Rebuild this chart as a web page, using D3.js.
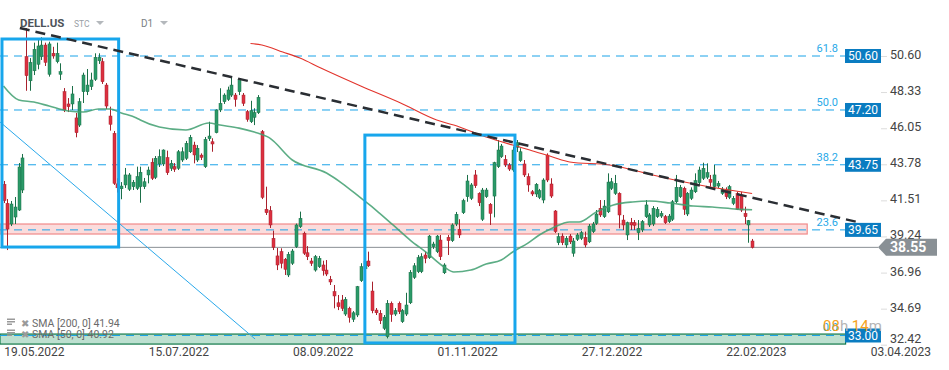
<!DOCTYPE html>
<html>
<head>
<meta charset="utf-8">
<script src="https://cdn.jsdelivr.net/npm/d3@7"></script>
<style>
  body { margin: 0; background: #fff; }
  svg { display: block; font-family: Roboto, "Noto Sans", sans-serif; }
</style>
</head>
<body>
<div id="chart"></div>
<script>
// DELL.US daily candles, index 0 = first visible session
const candles = [
  // [open, high, low, close]
  [42.52,42.73,41.34,41.49],[41.32,41.59,38.38,39.70],[40.02,41.47,39.89,41.28],[40.46,41.72,40.02,41.09],
  [40.90,43.86,40.84,43.61],[42.16,44.43,41.97,44.18],[50.56,52.36,48.41,49.36],[49.04,50.47,48.41,50.20],
  [49.67,51.44,49.40,51.02],[50.08,51.73,49.76,51.23],[50.56,51.78,50.35,51.29],[51.29,51.44,49.97,50.20],
  [49.45,51.50,49.30,51.36],[50.77,51.18,50.43,50.60],[50.24,51.44,50.14,50.77],[49.45,50.14,49.09,49.61],
  [48.35,48.58,47.07,47.20],[47.58,47.95,47.07,47.41],[47.58,48.71,47.20,48.21],[46.70,47.01,45.48,45.77],
  [46.25,47.95,46.13,47.72],[48.35,49.55,47.64,49.40],[48.35,49.78,48.14,48.77],[48.67,49.55,48.46,49.09],
  [49.13,50.77,49.03,50.52],[50.30,50.77,50.10,50.52],[50.24,50.47,48.84,48.98],[48.77,48.90,47.26,47.45],
  [46.82,47.41,45.90,46.30],[45.73,45.88,42.48,42.58],[42.55,42.90,42.00,42.30],[42.24,42.66,41.58,42.41],
  [42.48,43.55,42.29,43.11],[42.21,43.23,42.10,43.11],[42.37,42.79,42.16,42.65],[42.27,43.63,42.16,43.00],
  [42.37,43.63,41.36,43.28],[42.37,42.92,42.22,42.68],[43.11,43.63,42.58,43.42],[43.91,44.16,42.79,42.90],
  [42.96,44.30,42.85,44.16],[43.80,44.72,43.61,44.26],[43.80,44.72,43.67,44.68],[44.20,44.64,43.11,43.25],
  [43.53,44.05,43.36,43.84],[43.63,43.86,43.30,43.47],[43.53,44.68,43.42,44.57],[44.05,44.85,43.93,44.57],
  [44.16,45.25,44.05,45.10],[44.57,45.63,44.49,45.48],[44.99,45.20,43.84,44.37],[44.05,44.99,43.93,44.79],
  [44.36,44.47,44.05,44.22],[43.63,45.50,43.55,45.35],[45.39,46.46,45.25,45.56],[45.20,45.42,44.57,45.06],
  [45.77,47.24,45.73,47.20],[47.20,48.57,47.07,47.62],[47.72,48.25,47.58,48.14],[47.87,48.67,47.77,48.46],
  [48.14,49.34,48.02,48.77],[48.14,48.27,47.41,47.87],[48.35,49.19,48.14,49.13],[48.14,48.27,47.45,47.62],
  [47.09,47.20,46.46,46.61],[46.46,47.78,46.38,47.16],[46.74,47.31,46.25,47.03],[47.03,48.14,46.95,48.00],
  [45.83,45.94,41.59,41.70],[40.95,42.37,40.59,40.73],[40.86,41.15,39.77,39.96],[39.12,39.60,38.38,38.55],
  [38.01,38.51,37.12,37.44],[38.28,38.49,37.23,37.55],[37.80,37.88,36.81,37.17],[36.81,38.26,36.68,38.11],
  [37.55,38.45,37.44,38.32],[38.59,40.05,38.51,39.96],[39.85,40.80,39.77,40.38],[39.44,39.54,38.07,38.18],
  [38.21,38.63,37.75,37.96],[37.69,37.88,37.38,37.55],[37.12,38.07,37.02,37.96],[37.33,38.01,37.25,37.86],
  [37.44,37.71,36.77,37.08],[37.12,37.75,36.74,36.87],[36.54,36.75,36.18,36.37],[35.76,36.18,34.71,35.49],
  [35.06,35.55,34.60,34.81],[35.23,35.55,34.54,34.71],[34.35,35.42,34.23,35.28],[34.71,34.81,33.81,34.14],
  [34.02,34.54,33.85,34.43],[34.29,36.12,34.16,36.07],[36.45,37.55,36.37,37.33],[37.20,37.85,37.00,37.65],
  [37.69,38.28,37.31,37.39],[35.80,36.39,34.40,34.56],[34.60,34.73,34.29,34.43],[34.40,34.60,33.72,33.93],
  [33.45,34.29,33.34,34.15],[32.93,35.23,32.82,35.03],[35.03,35.14,33.86,34.33],[34.35,34.73,34.23,34.56],
  [35.03,35.14,34.35,34.50],[33.87,34.67,33.79,34.56],[34.35,35.69,34.23,34.92],[35.06,37.12,34.98,36.98],
  [36.66,37.56,36.56,37.39],[37.02,38.07,36.93,37.90],[37.02,38.18,36.93,37.96],[38.07,38.28,37.55,37.86],
  [37.90,39.33,37.82,39.26],[38.59,38.90,38.45,38.76],[38.28,39.33,38.19,39.26],[39.01,39.33,37.75,37.96],
  [36.95,37.55,36.87,37.44],[39.18,39.33,38.07,38.97],[38.97,40.06,38.89,39.96],[40.02,40.78,39.89,40.63],
  [39.69,40.32,39.14,39.33],[40.73,41.61,40.65,41.49],[41.74,43.11,41.42,42.73],[41.64,42.60,41.53,42.48],
  [43.11,43.42,42.29,42.43],[41.95,42.02,41.15,41.36],[40.32,42.29,40.21,42.16],[41.74,42.29,41.66,42.16],
  [41.26,41.34,39.96,40.69],[41.78,43.94,40.44,43.88],[43.63,45.31,43.55,44.68],[44.26,45.06,44.18,44.93],
  [44.09,44.36,43.61,43.74],[43.74,43.86,43.36,43.48],[43.42,44.90,43.30,44.68],[44.85,45.31,44.55,45.14],
  [44.01,44.79,43.93,44.57],[43.80,44.05,42.98,43.11],[43.00,43.21,42.05,42.48],[42.05,42.16,41.78,41.91],
  [41.91,42.60,41.72,42.52],[41.70,42.23,41.59,42.12],[41.53,42.90,41.33,42.79],[44.36,44.47,42.66,42.79],
  [42.54,42.90,41.66,41.78],[40.84,40.90,39.45,39.54],[38.84,39.45,38.69,39.22],[39.26,39.43,38.69,38.84],
  [38.70,39.26,38.51,39.12],[39.26,39.39,38.76,38.90],[38.18,39.14,37.96,38.95],[39.06,39.45,38.95,39.33],
  [39.12,39.58,39.01,39.47],[39.18,39.54,38.55,38.70],[38.90,40.02,38.82,39.89],[39.54,40.15,39.45,40.02],
  [40.06,40.90,39.96,40.65],[41.01,41.53,40.46,40.59],[40.48,41.53,40.40,41.15],[40.79,43.21,40.71,42.66],
  [42.27,42.92,42.16,42.68],[41.95,43.11,41.85,42.58],[41.95,42.02,39.75,40.59],[40.27,40.59,39.64,39.96],
  [39.33,40.17,39.01,40.10],[40.10,40.40,39.64,39.96],[40.10,40.27,39.64,39.94],[39.47,40.27,39.01,39.75],
  [39.64,40.27,39.51,40.17],[40.48,41.53,40.40,41.22],[39.96,40.71,39.83,40.59],[40.02,41.15,39.89,41.01],
  [40.48,41.09,40.40,40.95],[40.52,40.84,40.40,40.69],[40.48,40.59,40.02,40.10],[40.17,40.65,40.08,40.52],
  [40.32,41.53,40.21,41.42],[41.42,43.11,41.34,42.33],[41.74,42.48,41.66,42.33],[42.27,42.37,40.59,40.95],
  [40.65,42.03,40.52,41.95],[41.64,42.33,41.53,42.16],[42.05,43.21,41.97,42.75],[42.62,43.63,42.54,43.42],
  [42.90,43.88,42.79,43.53],[42.97,43.84,42.85,43.25],[42.83,43.11,42.37,42.65],[42.37,43.74,42.29,43.11],
  [42.41,42.73,42.29,42.58],[41.95,42.35,41.85,42.20],[42.16,42.33,41.59,41.74],[41.70,42.48,41.59,42.37],
  [41.32,41.78,41.21,41.64],[41.95,42.05,40.90,40.95],[41.85,42.05,40.78,40.90],[40.69,41.11,40.02,40.48],
  [39.96,40.27,38.84,40.23],[38.95,39.08,38.48,38.55]
];

// moving averages: [session index, value]
const sma50 = [[0,48.71],[4,47.83],[8,47.70],[12,47.45],[17,47.14],[21,47.07],[25,47.26],[28,47.26],
  [31,47.01],[35,46.70],[36,46.57],[41,46.13],[48,45.94],[54,46.38],[57,46.25],[62,46.06],[66,45.81],
  [70,45.44],[76,44.05],[85,43.23],[89,42.60],[94,41.66],[98,40.90],[102.5,39.96],[107,39.01],
  [111.5,38.19],[116,37.31],[118.5,37.00],[123,37.12],[127,37.50],[131,37.75],[134,38.26],[138,38.82],
  [141,39.33],[144.5,39.77],[149,40.15],[151.5,40.15],[156,40.78],[160.5,41.22],[165.5,41.41],
  [170,41.47],[175.5,41.34],[181.5,41.15],[186.5,41.09],[193,40.96],[197,40.92]];
const sma200 = [[65,51.39],[68,51.29],[73.5,50.85],[78,50.47],[83.5,49.84],[94,48.71],[104.5,47.64],
  [114,46.57],[118.5,46.25],[127,45.50],[134,44.99],[138.5,44.68],[144.5,44.24],[149,43.93],
  [159.5,43.74],[173,42.98],[186,42.35],[197,41.94]];

// fibonacci retracement levels
const fibRatios = ['61.8', '50.0', '38.2', '23.6', '0.0'];
const fibPrices = [50.60, 47.20, 43.75, 39.65, 33.00];

const lastPrice = 38.55;
const yTicks = [50.60, 48.33, 46.05, 43.78, 41.51, 39.24, 36.96, 34.69, 32.42];
const dateTickIdx = [8, 46, 84, 122, 160, 198, 236];
const dateLabels = ['19.05.2022', '15.07.2022', '08.09.2022', '01.11.2022', '27.12.2022', '22.02.2023', '03.04.2023'];

// drawn annotations, in [session index, price]
const trendDown = [[4.3, 52.36], [224.6, 40.15]];
const thinDiag = [[-0.9, 46.44], [66.2, 32.78]];
const boxes = [[[-0.4, 51.67], [30.3, 38.57]], [[95.1, 45.62], [134.6, 32.53]]];
const resistBand = [[-1, 40.02], [211.5, 39.39]];
const supportBand = [[-1, 33.09], [221.6, 32.46]];

const W = 949, H = 370;
const svg = d3.select('#chart').append('svg').attr('width', W).attr('height', H);

const x = d3.scaleLinear().domain([0, 236]).range([3.5, 900.3]);
const y = d3.scaleLinear().domain([32.42, 50.60]).range([344.7, 56]);

// bands
function band(b, fill, stroke) {
  svg.append('rect')
    .attr('x', Math.max(0, x(b[0][0]))).attr('y', y(b[0][1]))
    .attr('width', x(b[1][0]) - Math.max(0, x(b[0][0])))
    .attr('height', y(b[1][1]) - y(b[0][1]))
    .attr('fill', fill).attr('stroke', stroke).attr('stroke-width', 1.2);
}
band(resistBand, '#fbdcdc', '#f08a8a');
band(supportBand, '#bde0d0', '#137a4a');

// fib lines
fibPrices.forEach((p, i) => {
  svg.append('line')
    .attr('x1', 0).attr('x2', 845).attr('y1', y(p)).attr('y2', y(p))
    .attr('stroke', '#1aa3e8').attr('stroke-width', 1).attr('stroke-dasharray', '8,6');
  svg.append('text')
    .attr('x', 838).attr('y', y(p) - 4)
    .attr('text-anchor', 'end').attr('font-size', 11).attr('fill', '#29a9e8')
    .text(fibRatios[i]);
});

// last price line
svg.append('line')
  .attr('x1', 0).attr('x2', 878).attr('y1', y(lastPrice)).attr('y2', y(lastPrice))
  .attr('stroke', '#8a8f94').attr('stroke-width', 1);

// candles
const up = '#2b9a68', upEdge = '#1b6f48', dn = '#dc3040', dnEdge = '#a8202c';
const g = svg.append('g');
candles.forEach((c, i) => {
  const [o, h, l, cl] = c;
  const isUp = cl >= o;
  const cx = Math.round(x(i)) + 0.5;
  g.append('line')
    .attr('x1', cx).attr('x2', cx).attr('y1', y(h)).attr('y2', y(l))
    .attr('stroke', isUp ? upEdge : dnEdge).attr('stroke-width', 1);
  const top = y(Math.max(o, cl)), bot = y(Math.min(o, cl));
  g.append('rect')
    .attr('x', cx - 1.5).attr('y', top)
    .attr('width', 3).attr('height', Math.max(1, bot - top))
    .attr('fill', isUp ? up : dn)
    .attr('stroke', isUp ? upEdge : dnEdge).attr('stroke-width', 0.5);
});

// moving averages
const line = d3.line().x(d => x(d[0])).y(d => y(d[1])).curve(d3.curveMonotoneX);
svg.append('path').datum(sma50).attr('d', line)
  .attr('fill', 'none').attr('stroke', '#3f9f70').attr('stroke-opacity', 0.85).attr('stroke-width', 1.6);
svg.append('path').datum(sma200).attr('d', line)
  .attr('fill', 'none').attr('stroke', '#e2342c').attr('stroke-width', 1.1);

// drawn lines and boxes
const straight = d3.line().x(d => x(d[0])).y(d => y(d[1]));
svg.append('path').datum(thinDiag).attr('d', straight)
  .attr('stroke', '#2aa8ea').attr('stroke-width', 1).attr('fill', 'none');
boxes.forEach(b => {
  svg.append('rect')
    .attr('x', x(b[0][0])).attr('y', y(b[0][1]))
    .attr('width', x(b[1][0]) - x(b[0][0])).attr('height', y(b[1][1]) - y(b[0][1]))
    .attr('fill', 'none').attr('stroke', '#17a6ec').attr('stroke-width', 3);
});

// header
const hdr = svg.append('g');
hdr.append('text').attr('x', 20).attr('y', 27).attr('font-size', 11.5).attr('font-weight', 'bold')
  .attr('fill', '#4d5359').text('DELL.US');
hdr.append('text').attr('x', 74).attr('y', 27).attr('font-size', 8.5).attr('fill', '#9aa0a6').text('STC');
hdr.append('path').attr('d', 'M96,21 L104,21 L100,25 Z').attr('fill', '#b4b8bc');
hdr.append('text').attr('x', 141).attr('y', 27).attr('font-size', 10).attr('fill', '#7a7f84').text('D1');
hdr.append('path').attr('d', 'M160,21 L168,21 L164,25 Z').attr('fill', '#b4b8bc');

svg.append('path').datum(trendDown).attr('d', straight)
  .attr('stroke', '#2a2e33').attr('stroke-width', 2.5).attr('fill', 'none')
  .attr('stroke-dasharray', '10,6');

// fib value boxes
fibPrices.forEach(p => {
  svg.append('rect').attr('x', 845).attr('y', y(p) - 7).attr('width', 36).attr('height', 14)
    .attr('fill', '#0a7cc1');
  svg.append('text').attr('x', 863).attr('y', y(p)).attr('dy', '0.36em')
    .attr('text-anchor', 'middle').attr('font-size', 12).attr('fill', '#fff')
    .text(d3.format('.2f')(p));
});

// right price axis
const yAxis = svg.append('g').attr('transform', 'translate(881,0)')
  .call(d3.axisRight(y).tickValues(yTicks).tickSize(6).tickPadding(3).tickFormat(d3.format('.2f')));
yAxis.select('.domain').remove();
yAxis.selectAll('line').attr('stroke', '#dcdcdc');
yAxis.selectAll('text').attr('fill', '#444').attr('font-size', 12.5)
  .attr('font-family', 'Roboto, sans-serif')
  .attr('dy', (d, i) => i === yTicks.length - 1 ? '-0.15em' : '0.2em');

// last price tag
const ly = y(lastPrice);
svg.append('path')
  .attr('d', `M878,${ly} L886,${ly - 8.5} L937,${ly - 8.5} L937,${ly + 8.5} L886,${ly + 8.5} Z`)
  .attr('fill', '#899095');
svg.append('text').attr('x', 890).attr('y', ly).attr('dy', '0.36em')
  .attr('font-size', 14).attr('font-weight', 'bold').attr('fill', '#fff')
  .text(d3.format('.2f')(lastPrice));

// date axis
const xAxis = svg.append('g').attr('transform', 'translate(0,344)')
  .call(d3.axisBottom(x).tickValues(dateTickIdx).tickSize(0).tickPadding(3)
    .tickFormat((d, i) => dateLabels[i]));
xAxis.select('.domain').remove();
xAxis.selectAll('text').attr('fill', '#444').attr('font-size', 12)
  .attr('font-family', 'Roboto, sans-serif');

// candle timer
const timer = svg.append('text').attr('x', 823).attr('y', 331).attr('font-size', 15);
timer.append('tspan').attr('fill', '#f5a21c').text('08');
timer.append('tspan').attr('fill', '#b5b5b5').text('h ');
timer.append('tspan').attr('fill', '#f5a21c').text('14');
timer.append('tspan').attr('fill', '#b5b5b5').text('m');

// indicator legend
const legend = [['SMA [200,  0] 41.94', 326.5], ['SMA [50,  0] 40.92', 337.5]];
legend.forEach(([t, ly2]) => {
  const lg = svg.append('g').attr('fill', '#9a9a9a');
  [0, 2.5, 5].forEach(dy => lg.append('rect').attr('x', 7).attr('y', ly2 - 8 + dy).attr('width', dy === 5 ? 5 : 8).attr('height', 1.5));
  lg.append('text').attr('x', 21).attr('y', ly2).attr('font-size', 9.5).text('✖');
  svg.append('text').attr('x', 32).attr('y', ly2).attr('font-size', 10.5).attr('fill', '#6a6a6a').text(t);
});
</script>
</body>
</html>
